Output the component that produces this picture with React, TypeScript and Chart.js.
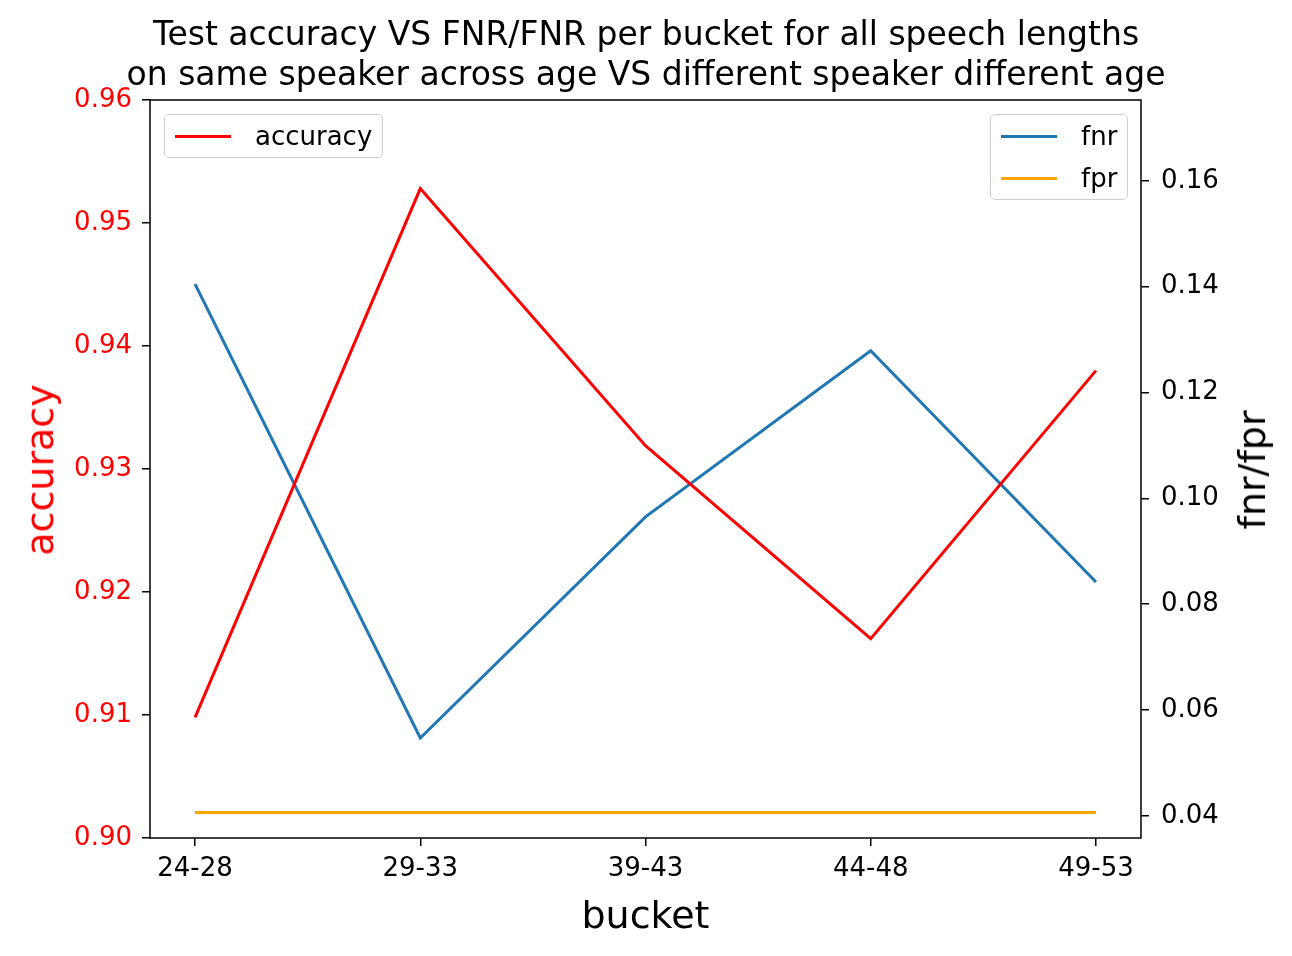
import React, { useEffect, useRef } from "react";
import Chart from "chart.js/auto";

const buckets = ["24-28", "29-33", "39-43", "44-48", "49-53"];
const accuracy = [0.9098, 0.9528, 0.9319, 0.9162, 0.938];
const fnr = [0.1405, 0.0547, 0.0965, 0.1279, 0.0842];
const fpr = [0.0406, 0.0406, 0.0406, 0.0406, 0.0406];
const rightTicks = [0.04, 0.06, 0.08, 0.1, 0.12, 0.14, 0.16];

const FONT = "DejaVu Sans";

const frame = {
  id: "frame",
  afterDraw(chart: any) {
    const { ctx, chartArea: a } = chart;
    ctx.save();
    ctx.strokeStyle = "#000";
    ctx.lineWidth = 1.5;
    ctx.strokeRect(a.left, a.top, a.right - a.left, a.bottom - a.top);
    ctx.restore();
  },
};

const pts = (v: number[]) => v.map((y, i) => ({ x: i, y }));

const App: React.FC = () => {
  const ref = useRef<HTMLCanvasElement | null>(null);

  useEffect(() => {
    if (!ref.current) return;
    const tickStyle = { font: { family: FONT, size: 26 }, color: "#000" };
    const chart = new Chart(ref.current, {
      type: "line",
      data: {
        datasets: [
          { label: "accuracy", data: pts(accuracy), borderColor: "#ff0000", yAxisID: "y", borderWidth: 3, pointRadius: 0, tension: 0 },
          { label: "fnr", data: pts(fnr), borderColor: "#1f77b4", yAxisID: "y1", borderWidth: 3, pointRadius: 0, tension: 0 },
          { label: "fpr", data: pts(fpr), borderColor: "#ffa500", yAxisID: "y1", borderWidth: 3, pointRadius: 0, tension: 0 },
        ],
      },
      options: {
        animation: false,
        responsive: false,
        devicePixelRatio: 1,
        layout: { padding: { top: 100, left: 0, right: 0, bottom: 0 } },
        plugins: { legend: { display: false }, title: { display: false }, tooltip: { enabled: false } },
        scales: {
          x: {
            type: "linear",
            min: -0.2,
            max: 4.2,
            afterBuildTicks: (s: any) => { s.ticks = buckets.map((_, i) => ({ value: i })); },
            afterFit: (s: any) => { s.height = 118; },
            ticks: { ...tickStyle, callback: (v: any) => buckets[v as number] ?? "", maxRotation: 0, padding: 8 },
            grid: { drawOnChartArea: false, tickLength: 8, color: "#000", lineWidth: 1.5 },
            border: { display: false },
          },
          y: {
            position: "left",
            min: 0.9,
            max: 0.96,
            afterFit: (s: any) => { s.width = 150; },
            ticks: { font: { family: FONT, size: 26 }, color: "#ff0000", stepSize: 0.01, callback: (v: any) => Number(v).toFixed(2), padding: 10 },
            grid: { drawOnChartArea: false, tickLength: 8, color: "#000", lineWidth: 1.5 },
            border: { display: false },
          },
          y1: {
            position: "right",
            min: 0.0358,
            max: 0.1753,
            afterBuildTicks: (s: any) => { s.ticks = rightTicks.map((v) => ({ value: v })); },
            afterFit: (s: any) => { s.width = 151; },
            ticks: { ...tickStyle, callback: (v: any) => Number(v).toFixed(2), padding: 12 },
            grid: { drawOnChartArea: false, tickLength: 8, color: "#000", lineWidth: 1.5 },
            border: { display: false },
          },
        },
      },
      plugins: [frame],
    } as any);
    return () => chart.destroy();
  }, []);

  const legendBox: React.CSSProperties = {
    position: "absolute",
    background: "rgba(255,255,255,0.8)",
    border: "1.5px solid #d0d0d0",
    borderRadius: 5,
    fontFamily: FONT,
    fontSize: 26,
    padding: "0 10px",
  };
  const row = (color: string, text: string) => (
    <div style={{ display: "flex", alignItems: "center", height: 42 }}>
      <span style={{ display: "inline-block", width: 56, height: 3, background: color, marginRight: 24 }} />
      {text}
    </div>
  );
  const axisLabel: React.CSSProperties = {
    position: "absolute",
    fontFamily: FONT,
    fontSize: 38,
    whiteSpace: "nowrap",
    transform: "translate(-50%, -50%) rotate(-90deg)",
  };

  return (
    <div style={{ position: "fixed", left: 0, top: 0, width: 1292, height: 956, background: "#fff" }}>
      <canvas ref={ref} width={1292} height={956} />
      <div style={{ position: "absolute", left: 0, width: 1292, top: 14, textAlign: "center", fontFamily: FONT, fontSize: 33, lineHeight: "40px" }}>
        Test accuracy VS FNR/FNR per bucket for all speech lengths
        <br />
        on same speaker across age VS different speaker different age
      </div>
      <div style={{ ...axisLabel, left: 40, top: 470, color: "#ff0000" }}>accuracy</div>
      <div style={{ ...axisLabel, left: 1252, top: 470 }}>fnr/fpr</div>
      <div style={{ position: "absolute", left: 150, width: 991, top: 893, textAlign: "center", fontFamily: FONT, fontSize: 38 }}>bucket</div>
      <div style={{ ...legendBox, left: 164, top: 114 }}>{row("#ff0000", "accuracy")}</div>
      <div style={{ ...legendBox, left: 990, top: 114 }}>
        {row("#1f77b4", "fnr")}
        {row("#ffa500", "fpr")}
      </div>
    </div>
  );
};

export default App;
